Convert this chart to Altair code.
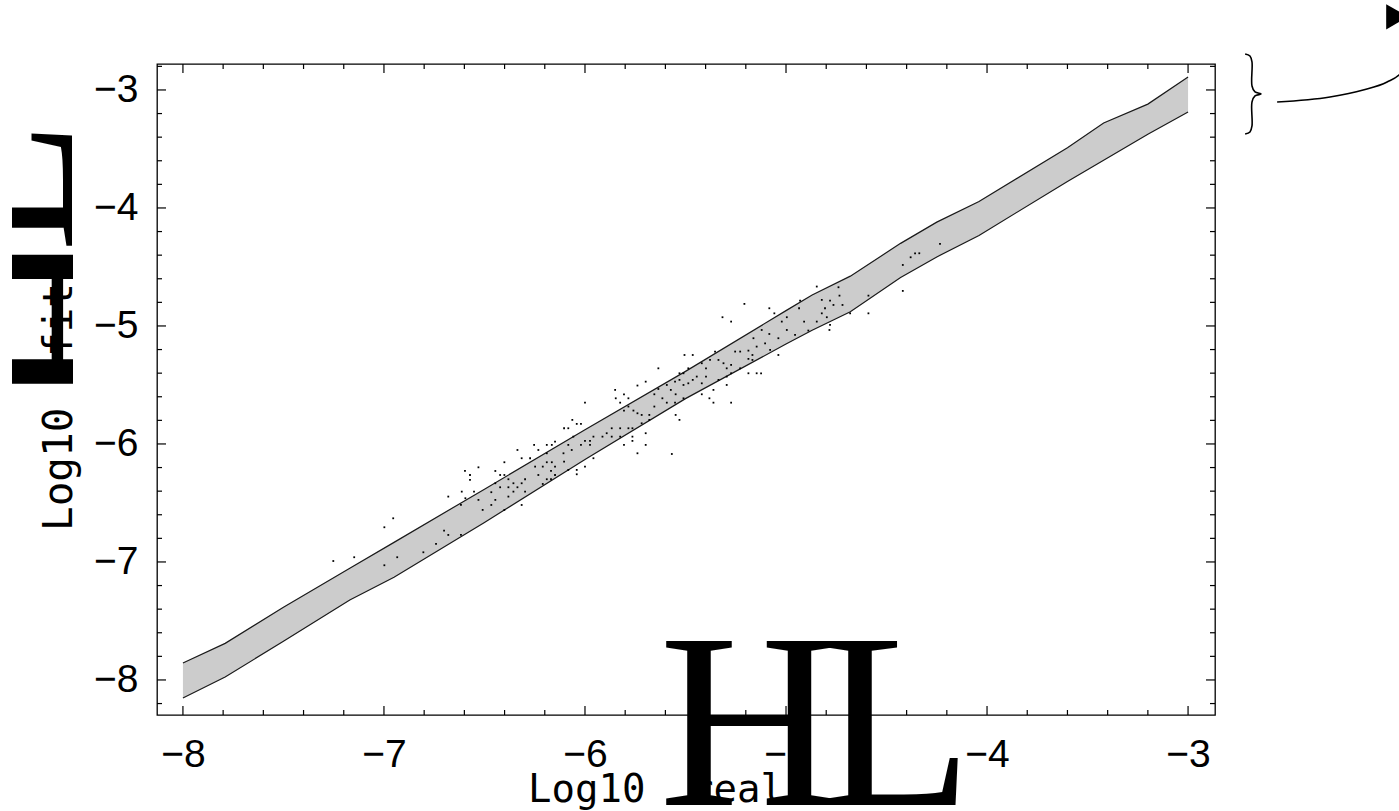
import altair as alt
import pandas as pd

# ---- data ----
band_x = [-8.0, -7.79, -7.5, -7.17, -6.95, -6.5, -6.0, -5.5, -5.0, -4.87, -4.68,
          -4.43, -4.25, -4.04, -3.6, -3.42, -3.2, -3.0]
band_upper = [-7.856, -7.69, -7.384, -7.054, -6.834, -6.383, -5.88, -5.385, -4.87,
              -4.737, -4.578, -4.30, -4.12, -3.945, -3.49, -3.28, -3.12, -2.89]
band_lower = [-8.153, -7.975, -7.672, -7.322, -7.13, -6.665, -6.132, -5.616, -5.153,
              -5.037, -4.88, -4.59, -4.415, -4.233, -3.775, -3.595, -3.375, -3.186]

dots = [
    (-4.847, -4.666), (-4.739, -4.672), (-5.207, -4.813), (-5.083, -4.850), (-5.058, -4.893),
    (-4.930, -4.785), (-4.822, -4.779), (-4.781, -4.785), (-4.764, -4.822), (-4.734, -4.743),
    (-4.719, -4.822), (-4.590, -4.743), (-4.806, -4.850), (-4.822, -4.893), (-4.797, -4.926),
    (-4.910, -4.963), (-4.847, -4.963), (-4.781, -4.991), (-4.784, -5.034), (-4.935, -4.850),
    (-4.996, -4.926), (-5.021, -4.963), (-4.996, -5.034), (-4.955, -5.076), (-4.889, -5.039),
    (-4.681, -4.893), (-4.590, -4.893), (-5.316, -4.926), (-5.273, -4.963), (-5.121, -5.034),
    (-5.083, -5.068), (-5.038, -5.104), (-5.162, -5.104), (-5.146, -5.175), (-5.104, -5.147),
    (-5.079, -5.203), (-5.038, -5.246), (-5.228, -5.217), (-5.187, -5.209), (-5.253, -5.217),
    (-5.167, -5.246), (-5.187, -5.279), (-5.167, -5.288), (-5.353, -5.217), (-5.378, -5.288),
    (-5.336, -5.288), (-5.311, -5.316), (-5.295, -5.359), (-5.273, -5.330), (-5.419, -5.316),
    (-5.398, -5.359), (-5.486, -5.359), (-5.530, -5.401), (-5.510, -5.401), (-5.464, -5.246),
    (-5.505, -5.246), (-5.635, -5.359), (-5.187, -5.401), (-5.146, -5.401), (-5.124, -5.401),
    (-5.228, -5.359), (-5.273, -5.401), (-5.295, -5.429), (-5.336, -5.457), (-5.361, -5.542),
    (-5.295, -5.500), (-5.398, -5.429), (-5.419, -5.486), (-5.444, -5.429), (-5.464, -5.457),
    (-5.486, -5.486), (-5.510, -5.500), (-5.530, -5.457), (-5.552, -5.472), (-5.593, -5.500),
    (-5.573, -5.542), (-5.615, -5.613), (-5.593, -5.650), (-5.552, -5.650), (-5.510, -5.613),
    (-5.549, -5.579), (-5.635, -5.534), (-5.655, -5.579), (-5.655, -5.683), (-5.698, -5.472),
    (-5.739, -5.505), (-5.850, -5.542), (-5.806, -5.579), (-5.784, -5.613), (-5.847, -5.613),
    (-5.825, -5.650), (-5.806, -5.717), (-5.784, -5.683), (-5.759, -5.717), (-5.739, -5.740),
    (-5.718, -5.754), (-5.680, -5.754), (-5.718, -5.825), (-5.680, -5.796), (-5.698, -5.909),
    (-5.764, -5.938), (-5.764, -5.867), (-5.784, -5.867), (-5.825, -5.867), (-5.867, -5.867),
    (-5.892, -5.909), (-5.913, -5.938), (-5.867, -5.938), (-5.825, -5.938), (-5.806, -6.008),
    (-5.764, -5.974), (-5.698, -6.008), (-5.739, -6.079), (-5.568, -6.085), (-5.549, -5.754),
    (-5.530, -5.796), (-5.419, -5.579), (-5.381, -5.613), (-5.361, -5.650), (-5.273, -5.650),
    (-6.000, -5.650), (-6.063, -5.796), (-6.041, -5.830), (-6.020, -5.830), (-6.104, -5.867),
    (-6.083, -5.867), (-6.058, -5.938), (-6.000, -5.974), (-5.975, -5.974), (-5.958, -5.938),
    (-5.975, -6.008), (-6.020, -6.008), (-6.083, -6.008), (-5.958, -6.121), (-6.000, -6.192),
    (-6.041, -6.220), (-6.041, -6.257), (-6.083, -6.220), (-6.104, -6.150), (-6.149, -5.980),
    (-6.165, -6.008), (-6.190, -6.008), (-6.190, -6.079), (-6.253, -6.008), (-6.232, -6.051),
    (-6.273, -6.121), (-6.336, -6.051), (-6.315, -6.121), (-6.401, -6.155), (-6.446, -6.229),
    (-6.422, -6.263), (-6.401, -6.263), (-6.381, -6.299), (-6.356, -6.333), (-6.315, -6.333),
    (-6.298, -6.299), (-6.298, -6.404), (-6.336, -6.367), (-6.356, -6.404), (-6.381, -6.446),
    (-6.381, -6.367), (-6.422, -6.367), (-6.446, -6.333), (-6.466, -6.409), (-6.446, -6.474),
    (-6.466, -6.517), (-6.530, -6.198), (-6.597, -6.229), (-6.572, -6.263), (-6.572, -6.305),
    (-6.613, -6.404), (-6.595, -6.460), (-6.552, -6.404), (-6.530, -6.474), (-6.617, -6.517),
    (-6.509, -6.559), (-6.680, -6.446), (-6.701, -6.734), (-6.680, -6.771), (-6.617, -6.771),
    (-6.741, -6.847), (-6.804, -6.918), (-6.401, -6.559), (-6.315, -6.517), (-6.248, -6.192),
    (-6.210, -6.192), (-6.190, -6.155), (-6.165, -6.155), (-6.149, -6.192), (-6.169, -6.229),
    (-6.149, -6.263), (-6.190, -6.299), (-6.169, -6.299), (-6.210, -6.339), (-6.232, -6.263),
    (-6.107, -6.079), (-6.066, -6.051), (-7.252, -6.992), (-7.148, -6.960), (-6.998, -6.706),
    (-6.954, -6.630), (-6.998, -7.028), (-6.934, -6.960), (-4.234, -4.305), (-4.358, -4.384),
    (-4.337, -4.384), (-4.380, -4.418), (-4.419, -4.483), (-4.419, -4.703),
]

major_x = [-8, -7, -6, -5, -4, -3]
major_y = [-8, -7, -6, -5, -4, -3]
minor_x = [round(-8 + 0.2 * i, 1) for i in range(26) if i % 5]
minor_y = [round(-8.2 + 0.2 * i, 1) for i in range(28) if (i - 1) % 5]

# annotation (brace, curve, arrow head) in data units
brace_x = [-2.716, -2.692, -2.682, -2.682, -2.667, -2.637, -2.667, -2.682, -2.682, -2.692, -2.716]
brace_y = [-2.695, -2.712, -2.763, -2.966, -3.017, -3.034, -3.051, -3.102, -3.305, -3.356, -3.373]
curve_x = [-2.557, -2.294, -2.129, -2.010, -1.945, -1.896]
curve_y = [-3.102, -3.059, -3.000, -2.932, -2.864, -2.746]
arrow_x = [-1.960]
arrow_y = [-2.380]

# ---- chart ----
W, H = 1058, 651
xs = alt.Scale(domain=[-8.129, -2.866], nice=False, zero=False)
ys = alt.Scale(domain=[-8.297, -2.780], nice=False, zero=False)

axis_common = dict(ticks=False, domain=False, grid=False, labelFontSize=39,
                   labelFont="Liberation Sans", labelColor="black", title=None,
                   zindex=1, format="d", labelFlush=False, labelOverlap=False)
AX = alt.Axis(values=major_x, labelPadding=20, **axis_common)
AY = alt.Axis(values=major_y, labelPadding=19, **axis_common)


def X(field):
    return alt.X(field, scale=xs, axis=AX, title=None)


def Y(field):
    return alt.Y(field, scale=ys, axis=AY, title=None)


band_df = pd.DataFrame({"x": band_x, "upper": band_upper, "lower": band_lower})
dots_df = pd.DataFrame(dots, columns=["x", "y"])

area = alt.Chart(band_df).mark_area(color="#cccccc", opacity=1).encode(
    x=X("x:Q"), y=Y("lower:Q"), y2="upper:Q")
upper_line = alt.Chart(band_df).mark_line(color="#1a1a1a", strokeWidth=1.2).encode(
    x=X("x:Q"), y=Y("upper:Q"))
lower_line = alt.Chart(band_df).mark_line(color="#1a1a1a", strokeWidth=1.2).encode(
    x=X("x:Q"), y=Y("lower:Q"))

dot_layer = alt.Chart(dots_df).mark_square(size=3.2, color="black", opacity=1).encode(
    x=X("x:Q"), y=Y("y:Q"))


def xticks(vals, length):
    d = pd.DataFrame({"v": vals})
    b = alt.Chart(d).mark_rule(color="black", strokeWidth=1.2).encode(
        x=X("v:Q"), y=alt.value(H), y2=alt.value(H - length))
    t = alt.Chart(d).mark_rule(color="black", strokeWidth=1.2).encode(
        x=X("v:Q"), y=alt.value(0), y2=alt.value(length))
    return [b, t]


def yticks(vals, length):
    d = pd.DataFrame({"v": vals})
    l = alt.Chart(d).mark_rule(color="black", strokeWidth=1.2).encode(
        y=Y("v:Q"), x=alt.value(0), x2=alt.value(length))
    r = alt.Chart(d).mark_rule(color="black", strokeWidth=1.2).encode(
        y=Y("v:Q"), x=alt.value(W), x2=alt.value(W - length))
    return [l, r]


tick_layers = xticks(major_x, 9) + xticks(minor_x, 5) + yticks(major_y, 9) + yticks(minor_y, 5)

one = pd.DataFrame({"t": [""]})


def label(text, x, y, font, size, angle=0):
    kw = dict(font=font, fontSize=size, align="left", baseline="alphabetic", color="black")
    if angle:
        kw["angle"] = angle
    return alt.Chart(pd.DataFrame({"t": [text]})).mark_text(**kw).encode(
        x=alt.value(x), y=alt.value(y), text="t:N")


texts = [
    # x-axis title  "Log10 (real)"  with the oversized bracket glyphs
    label("Log10", 371, 738, "DejaVu Sans Mono", 39),
    label("real", 533, 738, "DejaVu Sans Mono", 39),
    label("H", 502, 741, "Liberation Serif", 250),
    label("L", 663, 741, "Liberation Serif", 250),
    # y-axis title "Log10 (fit)" rotated
    label("H", -12, 349, "Liberation Serif", 260, 270),
    label("L", -85, 188, "Liberation Serif", 215, 270),
    label("Log10", -85, 467, "DejaVu Sans Mono", 41, 270),
    label("fit", -85, 293, "DejaVu Sans Mono", 41, 270),
]

masks = [
    alt.Chart(one).mark_rect(color="white", opacity=1).encode(
        x=alt.value(-170), x2=alt.value(-145), y=alt.value(25), y2=alt.value(360)),
    alt.Chart(one).mark_rect(color="white", opacity=1).encode(
        x=alt.value(-84), x2=alt.value(-4), y=alt.value(155), y2=alt.value(356)),
]

brace_df = pd.DataFrame({"x": brace_x, "y": brace_y, "i": list(range(len(brace_x)))})
curve_df = pd.DataFrame({"x": curve_x, "y": curve_y, "i": list(range(len(curve_x)))})
arrow_df = pd.DataFrame({"x": arrow_x, "y": arrow_y})

brace = alt.Chart(brace_df).mark_line(color="black", strokeWidth=1.6, interpolate="catmull-rom").encode(
    x=X("x:Q"), y=Y("y:Q"), order="i:Q")
curve = alt.Chart(curve_df).mark_line(color="black", strokeWidth=1.6, interpolate="monotone").encode(
    x=X("x:Q"), y=Y("y:Q"), order="i:Q")
arrow = alt.Chart(arrow_df).mark_point(shape="triangle-right", filled=True, size=640,
                                       color="black", opacity=1).encode(
    x=X("x:Q"), y=Y("y:Q"))

chart = alt.layer(
    area, upper_line, lower_line, dot_layer, *tick_layers, *texts, *masks, brace, curve, arrow
).properties(
    width=W, height=H,
    autosize=alt.AutoSizeParams(type="none"),
    padding={"left": 157, "top": 64, "right": 184, "bottom": 96},
    background="white",
).configure_view(stroke="black", strokeWidth=1.3)

chart.save("out.html", embed_options={"renderer": "svg", "actions": False})
